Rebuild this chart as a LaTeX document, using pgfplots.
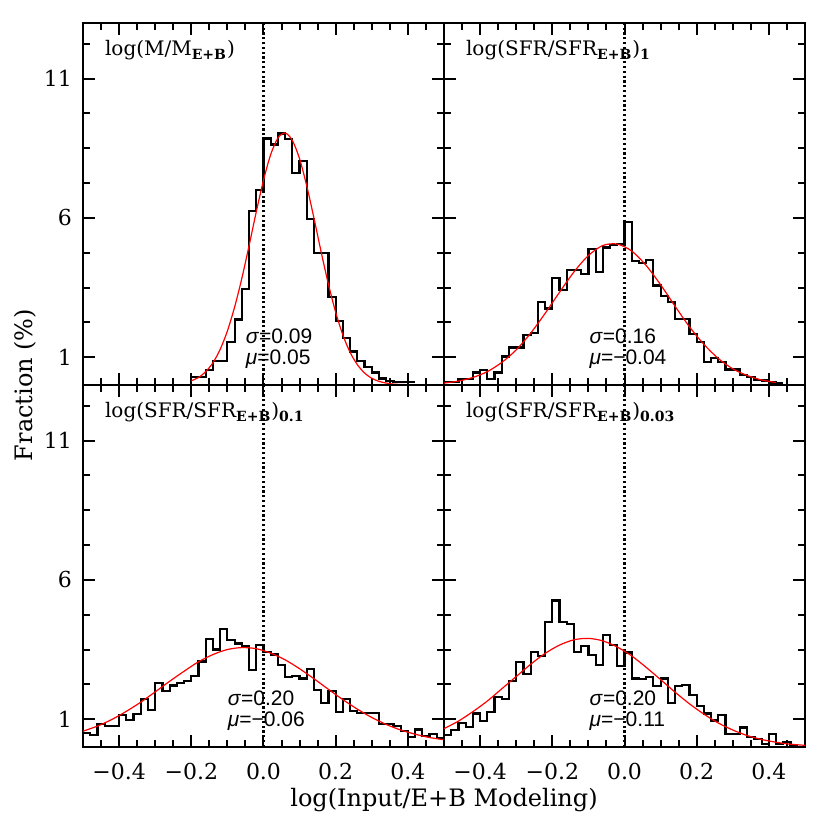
\documentclass[border=0pt]{standalone}
\usepackage{fontspec}
\setmainfont{DejaVu Serif}
\newfontfamily\hv{Liberation Sans}
\usepackage{pgfplots}
\pgfplotsset{compat=1.18}

\pgfplotsset{
  panel/.style={
    scale only axis, width=180.5pt, height=181pt,
    xmin=-0.5, xmax=0.5, ymin=0, ymax=13,
    xtick={-0.4,-0.2,0,0.2,0.4},
    xticklabels={−0.4,−0.2,0.0,0.2,0.4},
    minor xtick={-0.45,-0.35,-0.3,-0.25,-0.15,-0.1,-0.05,0.05,0.1,0.15,0.25,0.3,0.35,0.45},
    ytick={1,6,11}, yticklabels={1,6,11},
    minor ytick={2.25,3.5,4.75,7.25,8.5,9.75,12.25},
    xtick pos=both, ytick pos=both, tick align=inside,
    major tick length=6pt, minor tick length=3.5pt,
    axis line style={line width=1pt},
    tick style={black, line width=1pt},
    tick label style={font=\fontsize{11}{13}\selectfont},
    xticklabel style={yshift=-4.5pt},
    yticklabel style={xshift=-2pt},
  },
  hist/.style={const plot, black, line width=1.1pt, mark=none},
  fit/.style={red, line width=0.6pt, smooth, mark=none},
  zero/.style={black, line width=1.1pt, dash pattern=on 1.1pt off 1.3pt},
}
\newcommand{\ttl}[1]{\node[anchor=base west, font=\fontsize{10}{12}\selectfont]
  at ([xshift=7.5pt,yshift=-16.5pt]rel axis cs:0,1) {#1};}
\newcommand{\stat}[3]{%
  \node[anchor=base west, inner sep=0pt, font=\hv\fontsize{10.5}{12}\selectfont] at (axis cs:#1,1.5) {\textit{σ}=#2};
  \node[anchor=base west, inner sep=0pt, font=\hv\fontsize{10.5}{12}\selectfont] at (axis cs:#1,0.74) {\textit{μ}=#3};}

\begin{document}
\begin{tikzpicture}
\path[use as bounding box] (-41.5pt,-41.5pt) rectangle (373.5pt,373.5pt);

% top left
\begin{axis}[panel, at={(0pt,181pt)}, xticklabels={}]
\addplot[zero] coordinates {(0,0) (0,13)};
\addplot[hist] coordinates {
(-0.20,0.30) (-0.18,0.30) (-0.16,0.55) (-0.14,0.85) (-0.12,0.85) (-0.10,1.55)
(-0.08,2.35) (-0.06,3.44) (-0.04,6.26) (-0.02,7.01) (0.00,8.85) (0.02,8.64)
(0.04,9.03) (0.06,8.82) (0.08,7.60) (0.10,8.04) (0.12,5.96) (0.14,4.73)
(0.16,4.73) (0.18,3.16) (0.20,2.29) (0.22,1.70) (0.24,1.20) (0.26,0.85)
(0.28,0.66) (0.30,0.45) (0.32,0.23) (0.34,0.15) (0.36,0.12) (0.38,0.10)
(0.40,0.10) (0.42,0.10)};
\addplot[fit] coordinates {
(-0.20,0.15) (-0.18,0.27) (-0.16,0.48) (-0.14,0.80) (-0.12,1.28) (-0.10,1.94)
(-0.08,2.80) (-0.06,3.83) (-0.04,5.00) (-0.02,6.22) (0.00,7.35) (0.02,8.28)
(0.04,8.87) (0.06,9.05) (0.08,8.78) (0.10,8.12) (0.12,7.14) (0.14,5.98)
(0.16,4.76) (0.18,3.61) (0.20,2.61) (0.22,1.79) (0.24,1.17) (0.26,0.73)
(0.28,0.43) (0.30,0.24) (0.32,0.13) (0.34,0.07) (0.36,0.03) (0.38,0.02)
(0.40,0.01) (0.42,0.01)};
\ttl{log(M/M\textsubscript{\bfseries E+B})}
\stat{-0.05}{0.09}{0.05}
\end{axis}

% top right
\begin{axis}[panel, at={(180.5pt,181pt)}, xticklabels={}, yticklabels={}]
\addplot[zero] coordinates {(0,0) (0,13)};
\addplot[hist] coordinates {
(-0.50,0.10) (-0.48,0.10) (-0.46,0.21) (-0.44,0.21) (-0.42,0.45) (-0.40,0.54)
(-0.38,0.21) (-0.36,0.45) (-0.34,1.02) (-0.32,1.35) (-0.30,1.35) (-0.28,1.79)
(-0.26,1.86) (-0.24,2.97) (-0.22,2.75) (-0.20,3.84) (-0.18,3.41) (-0.16,4.14)
(-0.14,4.14) (-0.12,3.99) (-0.10,4.88) (-0.08,4.07) (-0.06,4.94) (-0.04,5.02)
(-0.02,5.06) (0.00,5.86) (0.02,4.44) (0.04,4.38) (0.06,4.50) (0.08,3.57)
(0.10,3.20) (0.12,2.97) (0.14,2.38) (0.16,2.38) (0.18,1.82) (0.20,1.55)
(0.22,0.83) (0.24,0.97) (0.26,0.82) (0.28,0.56) (0.30,0.56) (0.32,0.36)
(0.34,0.28) (0.36,0.18) (0.38,0.16) (0.40,0.09) (0.42,0.06) (0.44,0.06)};
\addplot[fit] coordinates {
(-0.50,0.07) (-0.46,0.14) (-0.42,0.27) (-0.38,0.48) (-0.34,0.81) (-0.30,1.26)
(-0.26,1.86) (-0.22,2.57) (-0.18,3.33) (-0.14,4.06) (-0.10,4.65) (-0.06,5.01)
(-0.02,5.06) (0.02,4.81) (0.06,4.29) (0.10,3.60) (0.14,2.83) (0.18,2.09)
(0.22,1.46) (0.26,0.95) (0.30,0.58) (0.34,0.34) (0.38,0.18) (0.42,0.09)};
\ttl{log(SFR/SFR\textsubscript{\bfseries E+B})\textsubscript{\bfseries 1}}
\stat{-0.098}{0.16}{−0.04}
\end{axis}

% bottom left
\begin{axis}[panel, at={(0pt,0pt)}]
\addplot[zero] coordinates {(0,0) (0,13)};
\addplot[hist] coordinates {
(-0.50,0.51) (-0.48,0.42) (-0.46,0.82) (-0.44,0.75) (-0.42,0.75) (-0.40,1.14)
(-0.38,0.97) (-0.36,1.19) (-0.34,1.72) (-0.32,1.34) (-0.30,2.30) (-0.28,2.00)
(-0.26,2.21) (-0.24,2.30) (-0.22,2.38) (-0.20,2.55) (-0.18,3.07) (-0.16,3.88)
(-0.14,3.50) (-0.12,4.23) (-0.10,3.84) (-0.08,3.72) (-0.06,3.62) (-0.04,2.76)
(-0.02,3.65) (0.00,3.42) (0.02,3.32) (0.04,2.94) (0.06,2.52) (0.08,2.55)
(0.10,2.46) (0.12,2.79) (0.14,2.05) (0.16,1.58) (0.18,2.00) (0.20,1.26)
(0.22,1.72) (0.24,1.30) (0.26,1.22) (0.28,1.22) (0.30,1.22) (0.32,0.84)
(0.34,0.84) (0.36,0.74) (0.38,0.58) (0.40,0.35) (0.42,0.63) (0.44,0.40)
(0.46,0.48) (0.48,0.32) (0.50,0.32)};
\addplot[fit] coordinates {
(-0.50,0.57) (-0.46,0.75) (-0.42,0.99) (-0.38,1.28) (-0.34,1.61) (-0.30,1.98)
(-0.26,2.36) (-0.22,2.72) (-0.18,3.06) (-0.14,3.32) (-0.10,3.50) (-0.06,3.57)
(-0.02,3.53) (0.02,3.37) (0.06,3.13) (0.10,2.81) (0.14,2.45) (0.18,2.07)
(0.22,1.70) (0.26,1.36) (0.30,1.06) (0.34,0.81) (0.38,0.61) (0.42,0.46)
(0.46,0.34) (0.50,0.26)};
\ttl{log(SFR/SFR\textsubscript{\bfseries E+B})\textsubscript{\bfseries 0.1}}
\stat{-0.10}{0.20}{−0.06}
\end{axis}

% bottom right
\begin{axis}[panel, at={(180.5pt,0pt)}, yticklabels={}]
\addplot[zero] coordinates {(0,0) (0,13)};
\addplot[hist] coordinates {
(-0.50,0.42) (-0.48,0.60) (-0.46,0.87) (-0.44,0.72) (-0.42,1.20) (-0.40,0.94)
(-0.38,1.26) (-0.36,1.80) (-0.34,1.71) (-0.32,2.38) (-0.30,3.06) (-0.28,2.61)
(-0.26,3.42) (-0.24,3.27) (-0.22,4.50) (-0.20,5.26) (-0.18,4.50) (-0.16,4.42)
(-0.14,3.42) (-0.12,3.63) (-0.10,3.30) (-0.08,2.94) (-0.06,4.02) (-0.04,3.66)
(-0.02,2.91) (0.00,3.39) (0.02,2.46) (0.04,2.43) (0.06,2.50) (0.08,2.19)
(0.10,2.46) (0.12,1.59) (0.14,2.18) (0.16,2.22) (0.18,1.86) (0.20,1.47)
(0.22,1.20) (0.24,0.95) (0.26,1.15) (0.28,0.48) (0.30,0.48) (0.32,0.70)
(0.34,0.36) (0.36,0.30) (0.38,0.12) (0.40,0.46) (0.42,0.12) (0.44,0.18)
(0.46,0.06) (0.48,0.06)};
\addplot[fit] coordinates {
(-0.50,0.66) (-0.46,0.93) (-0.42,1.27) (-0.38,1.65) (-0.34,2.09) (-0.30,2.53)
(-0.26,2.97) (-0.22,3.36) (-0.18,3.66) (-0.14,3.85) (-0.10,3.90) (-0.06,3.81)
(-0.02,3.59) (0.02,3.27) (0.06,2.86) (0.10,2.42) (0.14,1.97) (0.18,1.55)
(0.22,1.18) (0.26,0.86) (0.30,0.61) (0.34,0.41) (0.38,0.27) (0.42,0.17)
(0.46,0.10) (0.50,0.06)};
\ttl{log(SFR/SFR\textsubscript{\bfseries E+B})\textsubscript{\bfseries 0.03}}
\stat{-0.0975}{0.20}{−0.11}
\end{axis}

\node[rotate=90, font=\fontsize{12}{14}\selectfont] at (-29pt,181pt) {Fraction (\%)};
\node[font=\fontsize{12}{14}\selectfont] at (180.5pt,-26.5pt) {log(Input/E+B Modeling)};
\end{tikzpicture}
\end{document}
